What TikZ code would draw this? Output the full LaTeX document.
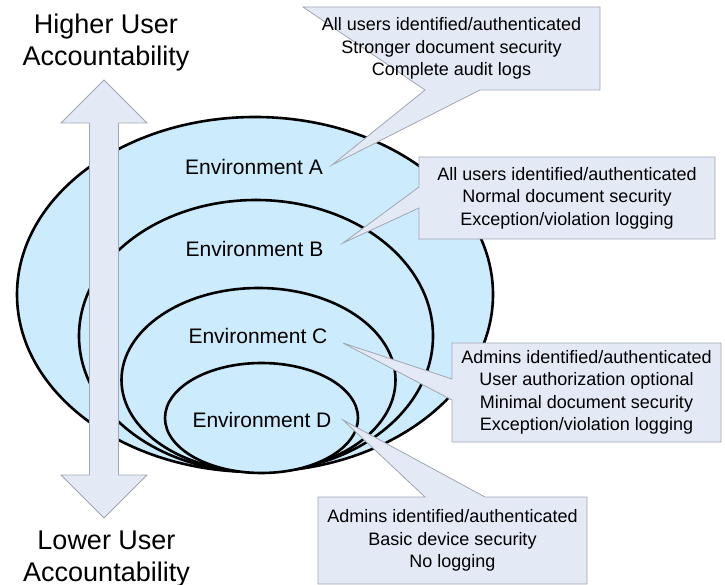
\documentclass[tikz,border=0pt]{standalone}
\usepackage{fontspec}
\setmainfont{Liberation Sans}
\usetikzlibrary{shapes.geometric,backgrounds,calc}

\definecolor{envblue}{RGB}{204,235,252}
\definecolor{notefill}{RGB}{227,233,245}
\definecolor{noteedge}{RGB}{160,166,178}

\tikzset{
  envshape/.style={ellipse, draw=black, line width=2.6pt, fill=envblue, inner sep=0pt},
  envlabel/.style={font=\fontsize{21}{25}\selectfont, inner sep=0pt},
  notebox/.style={align=center, inner sep=0pt, outer sep=0pt, font=\fontsize{18}{22.5}\selectfont},
  noteline/.style={draw=noteedge, fill=notefill, line width=0.8pt},
  bigtext/.style={align=center, inner sep=0pt, font=\fontsize{27}{32}\selectfont}
}

\begin{document}
\begin{tikzpicture}[x=1pt, y=-1pt]
      \useasboundingbox (0,0) rectangle (725,585);
      %
      \begin{scope}[on background layer]
        \node[envshape, minimum width=476, minimum height=355] (envA) at (255,294.5) {}; % outer
        \node[envshape, minimum width=354, minimum height=272] (envB) at (256,336) {};
        \node[envshape, minimum width=274, minimum height=184] (envC) at (258.5,380) {};
        \node[envshape, minimum width=193, minimum height=110] (envD) at (261.5,418) {}; % inner
      \end{scope}
      %
      \node[envlabel] (labA) at (254,166.5) {Environment A};
      \node[envlabel] (labB) at (254.5,248.5) {Environment B};
      \node[envlabel] (labC) at (258,335.5) {Environment C};
      \node[envlabel] (labD) at (262,419.5) {Environment D};
      %
      \coordinate (tipA) at (332,165);       % callout tips
      \coordinate (tipB) at (343,243);
      \coordinate (tipC) at (343,343);
      \coordinate (tipD) at (343,420);
      %
      \node[notebox, minimum width=297, minimum height=83] (noteA) at (451.5,48.5)
        {All users identified/authenticated\\Stronger document security\\Complete audit logs};
      \node[notebox, minimum width=296, minimum height=82] (noteB) at (567,198)
        {All users identified/authenticated\\Normal document security\\Exception/violation logging};
      \node[notebox, minimum width=269, minimum height=99] (noteC) at (586.5,392.5)
        {Admins identified/authenticated\\User authorization optional\\Minimal document security\\Exception/violation logging};
      \node[notebox, minimum width=269, minimum height=87] (noteD) at (452.5,540.5)
        {Admins identified/authenticated\\Basic device security\\No logging};
      %
      \begin{scope}[on background layer]
        \draw[noteline] (noteA.north west) -- (noteA.north east) -- (noteA.south east)
          -- ($(noteA.south west)+(177,0)$) -- (tipA) -- ($(noteA.south west)+(122,0)$) -- cycle;
        \draw[noteline] (noteB.north west) -- (noteB.north east) -- (noteB.south east) -- (noteB.south west)
          -- ($(noteB.north west)+(0,51)$) -- (tipB) -- ($(noteB.north west)+(0,30)$) -- cycle;
        \draw[noteline] (noteC.north west) -- (noteC.north east) -- (noteC.south east) -- (noteC.south west)
          -- ($(noteC.north west)+(0,57)$) -- (tipC) -- ($(noteC.north west)+(0,36)$) -- cycle;
        \draw[noteline] (noteD.north west) -- ($(noteD.north west)+(107,0)$) -- (tipD)
          -- ($(noteD.north west)+(167,0)$) -- (noteD.north east) -- (noteD.south east) -- (noteD.south west) -- cycle;
      \end{scope}
      %
      \draw[noteline] (104,80) -- (147,123) -- (118.5,123) -- (118.5,475) -- (147,475) -- (104,518)
        -- (61,475) -- (89.5,475) -- (89.5,123) -- (61,123) -- cycle;   % double arrow
      %
      \node[bigtext] (higher) at (106,42.2) {Higher User\\Accountability};
      \node[bigtext] (lower) at (106.5,559.2) {Lower User\\Accountability};
      %
    \end{tikzpicture}
\end{document}
